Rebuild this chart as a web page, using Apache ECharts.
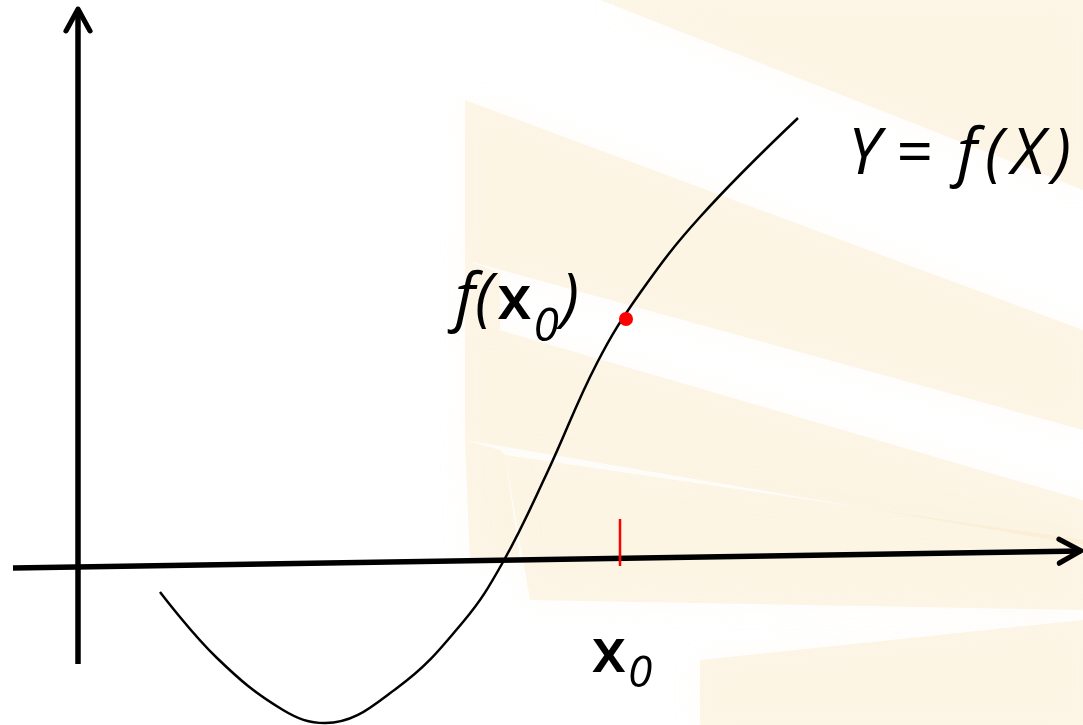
<!DOCTYPE html>
<html>
<head>
<meta charset="utf-8">
<script src="https://cdn.jsdelivr.net/npm/echarts@6/dist/echarts.min.js"></script>
<style>
html, body { margin: 0; padding: 0; background: #fff; }
#main { width: 1083px; height: 725px; }
</style>
</head>
<body>
<div id="main"></div>
<script>
// curve Y = f(X) (1 unit = 100px, origin where the axes cross)
var curveX = [0.82, 1.39, 2.05, 2.47, 3.19, 3.85, 4.25, 4.69, 5.19, 5.62, 6.22, 7.20];
var curveY = [-0.25, -0.91, -1.43, -1.56, -1.21, -0.55, 0.05, 0.94, 2.04, 2.74, 3.50, 4.49];

// the point x0 and f(x0)
var dotX = 5.48, dotY = 2.48;
var tickX = 5.42, tickY = [0.01, 0.48];

// axis lines (x axis is slightly tilted in the original)
var xAxisEnds = [[-0.65, -0.01], [10.03, 0.16]];
var yAxisEnds = [[0, -0.97], [0, 5.58]];

var chevron = 'path://M0,20 L12,0 L24,20';
var font = '"Open Sans", Lato, sans-serif';

function loadChart(){
	var chart = echarts.init(document.getElementById('main'));

	var rich = {
		i: { fontFamily: font, fontSize: 64, fontStyle: 'italic', color: '#000', lineHeight: 100 },
		k: { fontFamily: font, fontSize: 64, fontStyle: 'italic', color: '#000', lineHeight: 100, padding: [0, 4, 0, 4] },
		e: { fontFamily: font, fontSize: 64, color: '#000', lineHeight: 100, padding: [0, 20, 0, 16] },
		x: { fontFamily: font, fontSize: 62, fontWeight: 600, color: '#000', lineHeight: 100, padding: [0, 2, 0, 4] },
		s: { fontFamily: font, fontSize: 46, fontStyle: 'italic', color: '#000', lineHeight: 100, verticalAlign: 'bottom', padding: [0, 2, 0, 0] },
		s2: { fontFamily: font, fontSize: 44, fontStyle: 'italic', color: '#000', lineHeight: 100, verticalAlign: 'bottom', padding: [0, 0, 8, 0] }
	};

	var curve = curveX.map(function(x, i){ return [x, curveY[i]]; });

	var arrowEnd = function(pt, rotate, offset){
		return {
			value: pt,
			symbol: chevron,
			symbolSize: [24, 22],
			symbolRotate: rotate,
			symbolOffset: offset,
			itemStyle: { color: 'transparent', borderColor: '#000', borderWidth: 5, borderJoin: 'round', borderCap: 'round' }
		};
	};

	var bgStyle = { fill: 'rgba(248,230,188,0.32)', shadowBlur: 30, shadowColor: 'rgba(248,230,188,0.32)' };
	var option = {
		animation: false,
		backgroundColor: '#fff',
		graphic: [
			{ type: 'polygon', z: 0, shape: { points: [[600,0],[1083,0],[1083,190]] }, style: bgStyle },
			{ type: 'polygon', z: 0, shape: { points: [[465,100],[1083,330],[1083,430],[465,260]] }, style: bgStyle },
			{ type: 'polygon', z: 0, shape: { points: [[465,320],[1083,500],[1083,545],[465,440]] }, style: bgStyle },
			{ type: 'polygon', z: 0, shape: { points: [[465,260],[500,273],[500,330],[465,320]] }, style: bgStyle },
			{ type: 'polygon', z: 0, shape: { points: [[465,440],[500,450],[505,455],[520,560],[470,560]] }, style: bgStyle },
			{ type: 'polygon', z: 0, shape: { points: [[505,455],[1083,540],[1083,610],[530,600]] }, style: bgStyle },
			{ type: 'polygon', z: 0, shape: { points: [[700,660],[1083,620],[1083,725],[700,725]] }, style: bgStyle }
		],
		grid: { left: 0, right: 0, top: 0, bottom: 0 },
		xAxis: { type: 'value', min: -0.78, max: 10.05, show: false },
		yAxis: { type: 'value', min: -1.58, max: 5.67, show: false },
		series: [
			{
				type: 'line',
				data: [xAxisEnds[0], arrowEnd(xAxisEnds[1], -89, [-11, 0])],
				symbol: 'none',
				lineStyle: { color: '#000', width: 5.5 },
				silent: true
			},
			{
				type: 'line',
				data: [yAxisEnds[0], arrowEnd(yAxisEnds[1], 0, [0, 11])],
				symbol: 'none',
				lineStyle: { color: '#000', width: 5.5 },
				silent: true
			},
			{
				type: 'line',
				data: curve,
				smooth: 0.4,
				symbol: 'none',
				lineStyle: { color: '#000', width: 2.5 },
				endLabel: {
					show: true,
					color: '#000',
					formatter: '{i|Y}{e|=}{k|f}{k|(}{k|X}{k|)}',
					distance: 50,
					offset: [0, 38],
					rich: rich
				}
			},
			{
				type: 'line',
				data: [[tickX, tickY[0]], [tickX, tickY[1]]],
				symbol: 'none',
				lineStyle: { color: '#FF0000', width: 2.5 }
			},
			{
				type: 'scatter',
				data: [[tickX, tickY[0]]],
				symbolSize: 0,
				itemStyle: { opacity: 1 },
				label: {
					show: true,
					color: '#000',
					position: 'bottom',
					distance: 38,
					formatter: '{x|x}{s2|0}',
					rich: rich
				}
			},
			{
				type: 'scatter',
				data: [[dotX, dotY]],
				symbolSize: 14,
				itemStyle: { color: '#FF0000', opacity: 1 },
				z: 5,
				label: {
					show: true,
					color: '#000',
					position: 'left',
					distance: 40,
					offset: [0, -18],
					formatter: '{i|f(}{x|x}{s|0}{i|)}',
					rich: rich
				}
			}
		]
	};
	chart.setOption(option);
}
loadChart();
</script>
</body>
</html>
